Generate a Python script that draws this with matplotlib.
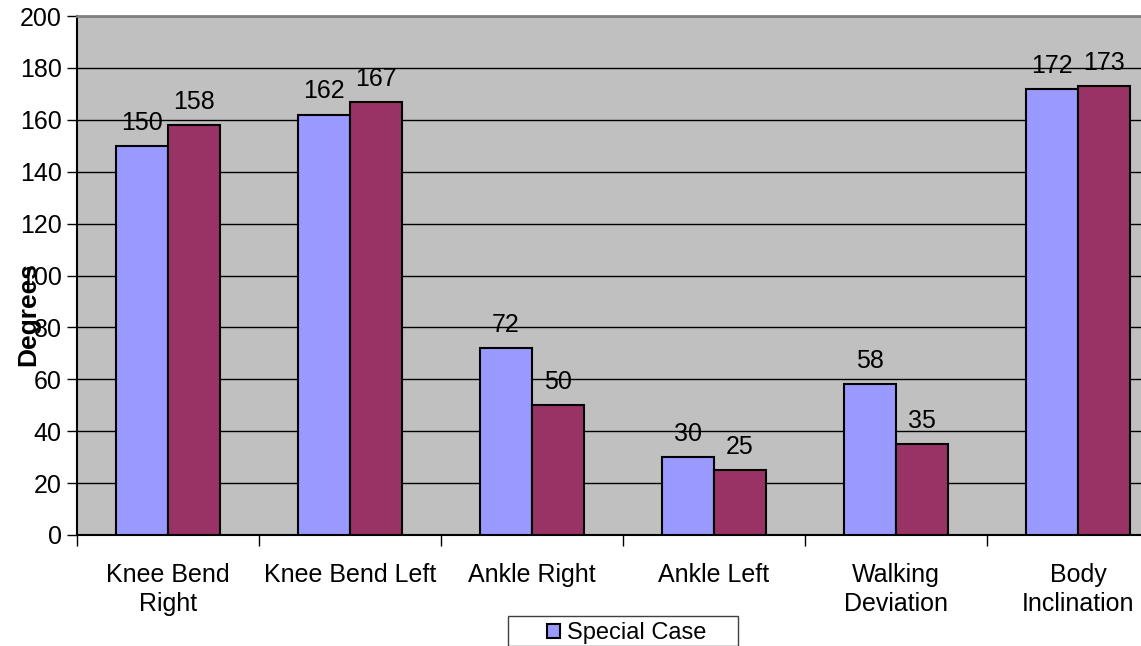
import matplotlib.pyplot as plt
from matplotlib.patches import Rectangle
import numpy as np

plt.rcParams['font.family'] = ['Liberation Sans', 'DejaVu Sans']

# Data
categories = ['Knee Bend\nRight', 'Knee Bend Left', 'Ankle Right', 'Ankle Left',
              'Walking\nDeviation', 'Body\nInclination']
special_case = [150, 162, 72, 30, 58, 172]
normal_case = [158, 167, 50, 25, 35, 173]
series_names = ['Special Case', 'Normal Case']

x = np.arange(len(categories)) + 0.5
width = 0.285

fig = plt.figure(figsize=(11.41, 6.46), dpi=100)
# plot area runs past the right edge, like the cropped original
ax = fig.add_axes([77 / 1141, (646 - 535) / 646, 1092 / 1141, 519 / 646])
ax.set_facecolor('#C0C0C0')

b1 = ax.bar(x - width / 2, special_case, width, color='#9999FF', edgecolor='black',
            linewidth=1.5, label=series_names[0], zorder=3)
b2 = ax.bar(x + width / 2, normal_case, width, color='#993366', edgecolor='black',
            linewidth=1.5, label=series_names[1], zorder=3)

for bars in (b1, b2):
    for rect in bars:
        ax.annotate(f'{rect.get_height():g}',
                    (rect.get_x() + rect.get_width() / 2, rect.get_height()),
                    xytext=(0, 8), textcoords='offset points',
                    ha='center', va='bottom', fontsize=18)

ax.set_xlim(0, 6)
ax.set_ylim(0, 200)
ax.set_yticks(np.arange(0, 201, 20))
ax.yaxis.grid(True, color='black', linewidth=1)
ax.set_axisbelow(True)

# category boundaries get tick marks, labels sit in between
ax.set_xticks(np.arange(0, 7))
ax.set_xticklabels([])
ax.set_xticks(x, minor=True)
ax.set_xticklabels(categories, minor=True, fontsize=18, linespacing=1.3)
ax.tick_params(axis='x', which='major', length=8, direction='out', width=1)
ax.tick_params(axis='x', which='minor', length=0, pad=20)
ax.tick_params(axis='y', length=7, width=1, labelsize=18, pad=4)

ax.spines['top'].set_color('#808080')
ax.spines['top'].set_linewidth(2)
ax.spines['right'].set_visible(False)
ax.spines['left'].set_linewidth(1.5)
ax.spines['bottom'].set_linewidth(1.5)

fig.text(28 / 1141, 1 - 314 / 646, 'Degrees', rotation=90, fontsize=19,
         fontweight='bold', ha='center', va='center')

# legend box is cropped at the bottom edge in the original; only the first entry shows
fig.patches.append(Rectangle((508 / 1141, 0), 230 / 1141, 30 / 646,
                             transform=fig.transFigure, facecolor='white',
                             edgecolor='#404040', linewidth=1, zorder=1))
leg = fig.legend(handles=[b1], labels=[series_names[0]], loc='center',
                 bbox_to_anchor=(627 / 1141, 1 - 633 / 646), fontsize=17,
                 frameon=False, handlelength=0.55, handleheight=0.55,
                 handletextpad=0.3, borderpad=0)

fig.savefig('out.png', dpi=100)
